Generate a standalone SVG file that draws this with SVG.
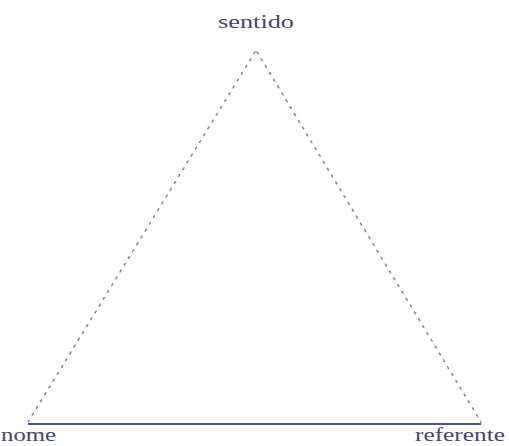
<svg xmlns="http://www.w3.org/2000/svg" width="509" height="446" viewBox="0 0 509 446">
<style>
text{font-family:"Liberation Serif",serif;font-size:19px;fill:#4a4370}
.dot{stroke:#8a84a8;stroke-width:1.6;stroke-dasharray:2 6;stroke-linecap:round;fill:none}
.solid{stroke:#4a4aa8;stroke-width:2.2;fill:none}
</style>
<rect width="509" height="446" fill="#fff"/>
<g id="connectors">
<line class="dot" x1="255" y1="52" x2="28" y2="422"/>
<line class="dot" x1="257" y1="52" x2="481" y2="422"/>
<line class="solid" x1="28" y1="424" x2="481" y2="424"/>
</g>
<g id="sentido"><text x="218" y="28" textLength="76" lengthAdjust="spacingAndGlyphs">sentido</text></g>
<g id="nome"><text x="1" y="441" textLength="55" lengthAdjust="spacingAndGlyphs">nome</text></g>
<g id="referente"><text x="415" y="441" textLength="90" lengthAdjust="spacingAndGlyphs">referente</text></g>
</svg>
